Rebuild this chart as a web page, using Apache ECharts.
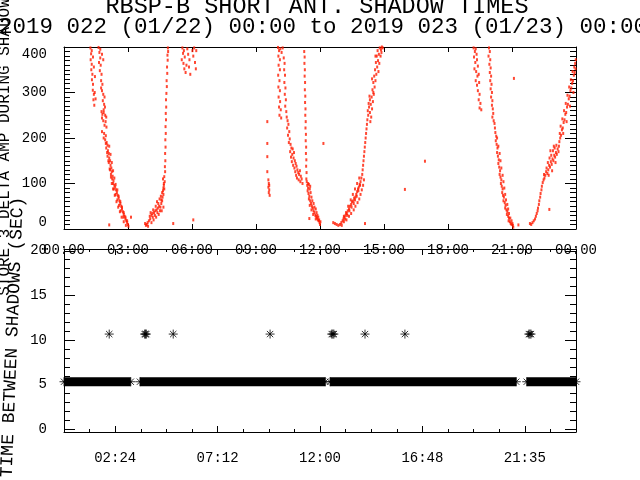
<!DOCTYPE html>
<html>
<head>
<meta charset="utf-8">
<script src="https://cdn.jsdelivr.net/npm/echarts@6.0.0/dist/echarts.min.js"></script>
<style>
  html, body { margin: 0; padding: 0; background: #fff; }
  #chart { width: 640px; height: 480px; }
</style>
</head>
<body>
<div id="chart"></div>
<script>
// ---- tick labels ----
const topTickLabels = ['00:00', '03:00', '06:00', '09:00', '12:00', '15:00', '18:00', '21:00', '00:00']
const bottomTickHours = [2.4, 7.2, 12.0, 16.8, 21.6]
const bottomTickLabels = ['02:24', '07:12', '12:00', '16:48', '21:35']
const gapTicks = [0, 5, 10, 15, 20]
const gapMinorTicks = [0, 1, 2, 3, 4, 5, 6, 7, 8, 9, 10, 11, 12, 13, 14, 15, 16, 17, 18, 19, 20]

// ---- top panel: [hour, amp] ----
const dawnUpper = [
  [1.24, 398], [1.27, 385], [1.25, 372], [1.30, 362], [1.28, 350], [1.33, 340], [1.31, 328], [1.36, 318],
  [1.35, 305], [1.40, 296], [1.38, 284], [1.42, 272], [1.30, 392], [1.36, 378], [1.40, 356], [1.45, 335],
  [1.44, 300], [1.48, 286], [1.62, 399], [1.66, 388], [1.70, 376], [1.64, 366], [1.72, 360], [1.68, 348],
  [1.76, 340], [1.74, 326], [1.80, 318], [1.78, 304], [1.84, 296], [1.82, 282], [1.88, 274], [1.86, 262],
  [1.70, 395], [1.78, 384], [1.84, 372], [1.74, 310], [1.90, 290], [1.92, 268]
]
const dawnDown = [
  [1.76, 258], [1.80, 252], [1.86, 256], [1.93, 250], [1.98, 246], [1.78, 244], [1.84, 238], [1.95, 236],
  [1.90, 228], [1.99, 224], [1.78, 214], [1.88, 210], [1.96, 205], [1.86, 200], [1.93, 196], [2.00, 190],
  [2.04, 184], [1.98, 178], [2.06, 172], [2.10, 166], [2.04, 160], [2.12, 156], [2.16, 150], [2.10, 146],
  [2.18, 140], [2.22, 134], [2.16, 130], [2.24, 126], [2.20, 120], [2.28, 116], [2.26, 110], [2.32, 106],
  [2.30, 100], [2.36, 96], [2.40, 92], [2.34, 88], [2.44, 86], [2.48, 80], [2.42, 76], [2.52, 74],
  [2.56, 68], [2.50, 64], [2.60, 62], [2.64, 56], [2.58, 52], [2.68, 50], [2.72, 44], [2.66, 40],
  [2.76, 38], [2.80, 32], [2.84, 28], [2.78, 26], [2.88, 22], [2.92, 18], [2.96, 14], [3.00, 10], [3.02, 6],
  [1.96, 188], [2.12, 182], [2.02, 168], [2.18, 164], [2.08, 150], [2.24, 146], [2.14, 132], [2.30, 128],
  [2.20, 114], [2.36, 112], [2.24, 100], [2.42, 98], [2.30, 88], [2.50, 86], [2.38, 74], [2.56, 72],
  [2.46, 60], [2.64, 60], [2.54, 48], [2.72, 48], [2.62, 38], [2.80, 36], [2.70, 26], [2.88, 26],
  [2.80, 16], [2.96, 18], [2.90, 8]
]
const dawnUp = [
  [3.80, 12], [3.84, 8], [3.88, 10], [3.92, 14], [3.98, 18], [4.04, 22], [4.02, 28], [4.10, 30],
  [4.16, 26], [4.14, 34], [4.22, 36], [4.28, 40], [4.26, 30], [4.34, 42], [4.40, 46], [4.38, 36],
  [4.46, 50], [4.52, 48], [4.56, 56], [4.50, 40], [4.60, 62], [4.62, 70], [4.66, 76], [4.64, 84],
  [4.70, 88], [4.68, 96], [4.72, 104], [4.70, 115], [4.74, 126], [4.73, 137], [4.75, 150], [4.74, 166],
  [4.76, 180], [4.75, 196], [4.77, 210], [4.76, 225], [4.78, 240], [4.77, 254], [4.79, 268], [4.78, 284],
  [4.80, 298], [4.82, 313], [4.81, 326], [4.84, 342], [4.83, 356], [4.86, 371], [4.85, 382], [4.88, 390], [4.87, 398],
  [4.06, 36], [4.18, 42], [4.30, 50], [4.42, 56], [4.56, 64], [4.20, 20], [4.32, 26], [4.44, 32],
  [4.58, 40], [4.66, 48], [4.10, 14], [3.94, 6], [4.36, 60], [4.48, 66], [4.54, 72], [4.60, 80],
  [4.66, 90], [4.68, 100], [4.64, 110]
]
const morning = [
  [5.55, 398], [5.58, 386], [5.62, 392], [5.52, 372], [5.60, 364], [5.66, 378], [5.64, 352], [5.70, 344],
  [5.74, 360], [5.78, 396], [5.82, 384], [5.88, 372], [5.86, 356], [5.92, 340], [6.02, 392], [6.10, 398],
  [6.06, 380], [6.14, 366], [6.20, 392], [6.18, 352]
]
const noonDown = [
  [10.03, 399], [10.08, 392], [10.14, 396], [10.20, 388], [10.25, 398], [10.05, 380], [10.12, 372], [10.06, 360],
  [10.12, 350], [10.04, 338], [10.10, 326], [10.05, 312], [10.12, 304], [10.06, 290], [10.13, 280], [10.08, 268],
  [10.16, 262], [10.10, 250], [10.18, 244], [10.30, 376], [10.34, 364], [10.32, 350], [10.36, 338], [10.33, 322],
  [10.38, 310], [10.35, 296], [10.40, 284], [10.37, 270], [10.42, 258], [10.44, 246], [10.48, 238], [10.52, 230],
  [10.46, 222], [10.56, 214], [10.50, 206], [10.58, 198], [10.54, 190], [10.62, 186], [10.66, 178], [10.60, 170],
  [10.72, 176], [10.70, 164], [10.64, 158], [10.78, 168], [10.76, 156], [10.68, 148], [10.82, 150], [10.74, 140],
  [10.86, 144], [10.80, 134], [10.90, 138], [10.84, 126], [10.94, 130], [10.88, 118], [10.98, 124], [10.92, 112],
  [11.02, 120], [11.06, 128], [11.00, 108], [11.10, 116], [11.08, 104], [11.14, 110], [11.18, 100],
  [11.26, 390], [11.28, 378], [11.27, 364], [11.29, 350], [11.28, 336], [11.30, 322], [11.29, 306], [11.31, 292],
  [11.30, 278], [11.32, 264], [11.31, 250], [11.33, 236], [11.32, 222], [11.34, 208], [11.33, 194], [11.35, 180],
  [11.34, 166], [11.36, 152], [11.35, 138], [11.37, 124], [11.36, 110], [11.38, 104], [11.40, 96], [11.44, 90],
  [11.42, 84], [11.46, 78], [11.50, 72], [11.48, 66], [11.54, 62], [11.58, 56], [11.52, 52], [11.62, 50],
  [11.66, 46], [11.60, 42], [11.70, 40], [11.74, 36], [11.68, 32], [11.78, 30], [11.82, 28], [11.86, 24],
  [11.80, 22], [11.90, 20], [11.94, 18], [11.98, 14], [12.00, 10],
  [11.48, 98], [11.52, 88], [11.56, 80], [11.60, 70], [11.64, 62], [11.70, 56], [11.74, 48], [11.80, 44],
  [11.84, 36], [11.88, 30], [11.92, 26], [11.96, 20], [12.02, 16], [11.44, 100], [11.54, 94]
]
const noonUp = [
  [12.62, 14], [12.70, 12], [12.78, 10], [12.86, 8], [12.94, 10], [13.00, 14], [13.06, 18], [13.10, 22],
  [13.14, 26], [13.20, 30], [13.18, 22], [13.26, 34], [13.30, 40], [13.28, 30], [13.36, 44], [13.40, 50],
  [13.38, 40], [13.46, 54], [13.50, 60], [13.48, 48], [13.56, 62], [13.60, 68], [13.58, 56], [13.66, 70],
  [13.70, 76], [13.64, 64], [13.74, 82], [13.78, 88], [13.72, 72], [13.82, 92], [13.86, 98], [13.80, 84],
  [13.90, 104], [13.94, 112], [13.88, 96], [13.98, 120], [14.00, 130], [14.02, 140], [14.04, 150], [14.06, 160],
  [14.08, 170], [14.10, 180], [14.12, 190], [14.14, 200], [14.16, 210], [14.18, 220], [14.20, 230], [14.22, 240],
  [14.26, 250], [14.24, 260], [14.30, 268], [14.28, 276], [14.34, 284], [14.32, 292],
  [14.36, 236], [14.40, 246], [14.34, 256], [14.44, 264], [14.38, 274], [14.48, 280], [14.42, 290], [14.52, 296],
  [14.46, 306], [14.56, 312], [14.50, 322], [14.60, 326], [14.54, 336], [14.64, 340], [14.58, 350], [14.68, 356],
  [14.62, 366], [14.72, 370], [14.66, 380], [14.76, 384], [14.70, 392], [14.80, 398], [14.86, 394], [14.90, 400],
  [14.84, 380], [14.74, 346], [14.78, 364], [14.88, 388], [14.94, 398], [14.50, 300], [14.44, 330], [14.60, 380],
  [13.12, 16], [13.24, 20], [13.36, 28], [13.46, 34], [13.58, 42], [13.66, 50], [13.76, 58], [13.84, 66],
  [13.90, 76], [13.96, 86], [14.02, 96], [14.06, 108], [13.32, 50], [13.44, 64], [13.54, 76], [13.64, 88],
  [13.74, 100], [13.84, 112], [13.02, 8], [13.22, 36], [13.12, 28]
]
const eveDown = [
  [19.20, 398], [19.26, 390], [19.22, 378], [19.30, 396], [19.34, 384], [19.28, 366], [19.36, 372], [19.24, 352],
  [19.32, 346], [19.40, 358], [19.38, 336], [19.30, 326], [19.44, 340], [19.36, 316], [19.46, 322], [19.40, 304],
  [19.48, 296], [19.44, 284], [19.52, 276], [19.48, 266], [19.56, 262],
  [19.92, 398], [19.96, 390], [19.90, 380], [19.98, 372], [19.94, 362], [20.00, 354], [19.96, 344], [20.02, 336],
  [19.98, 326], [20.04, 318], [20.00, 308], [20.06, 300], [20.02, 290], [20.08, 282], [20.06, 272], [20.10, 264],
  [20.12, 254], [20.08, 246], [20.14, 238], [20.18, 232], [20.20, 222], [20.22, 212], [20.26, 204], [20.24, 194],
  [20.28, 186], [20.32, 178], [20.30, 168], [20.34, 160], [20.38, 152], [20.36, 144], [20.40, 136], [20.44, 128],
  [20.42, 120], [20.46, 114], [20.50, 108], [20.48, 100], [20.52, 94], [20.56, 88], [20.54, 80], [20.58, 74],
  [20.62, 70], [20.60, 62], [20.66, 58], [20.70, 52], [20.68, 46], [20.74, 42], [20.78, 38], [20.76, 32],
  [20.82, 28], [20.86, 24], [20.84, 18], [20.90, 16], [20.94, 12], [20.98, 10], [21.04, 8], [21.06, 4],
  [20.30, 200], [20.36, 182], [20.42, 166], [20.46, 150], [20.50, 134], [20.56, 118], [20.60, 104], [20.64, 90],
  [20.68, 76], [20.72, 64], [20.78, 54], [20.82, 44], [20.86, 34], [20.92, 24], [20.98, 18], [21.02, 12]
]
const eveUp = [
  [21.84, 12], [21.90, 10], [21.96, 14], [22.02, 18], [22.08, 22], [22.12, 28], [22.16, 34], [22.20, 40],
  [22.22, 46], [22.26, 54], [22.28, 62], [22.32, 70], [22.34, 78], [22.38, 86], [22.40, 94], [22.44, 102],
  [22.48, 108], [22.52, 112], [22.50, 120], [22.56, 118],
  [22.60, 126], [22.66, 122], [22.62, 134], [22.70, 130], [22.74, 140], [22.68, 146], [22.78, 136], [22.82, 148],
  [22.76, 156], [22.86, 142], [22.90, 154], [22.84, 162], [22.94, 150], [22.98, 162], [22.92, 172], [23.02, 158],
  [23.06, 168], [23.00, 178], [23.10, 164], [23.14, 176], [23.08, 184], [23.18, 170], [23.20, 182], [22.72, 118],
  [22.88, 128], [23.04, 146], [22.80, 172], [22.96, 182],
  [23.22, 192], [23.26, 200], [23.24, 210], [23.30, 206], [23.34, 218], [23.28, 226], [23.38, 222], [23.42, 234],
  [23.36, 242], [23.46, 240], [23.50, 252], [23.44, 260], [23.54, 256], [23.58, 268], [23.52, 276], [23.62, 274],
  [23.66, 286], [23.60, 294], [23.70, 292], [23.74, 304], [23.68, 312], [23.78, 310], [23.82, 320], [23.76, 328],
  [23.86, 326], [23.90, 338], [23.84, 346], [23.94, 344], [23.92, 356], [23.98, 352], [23.96, 364], [23.99, 372],
  [23.88, 300], [23.72, 270], [23.56, 236], [23.40, 210]
]
const strays = [
  [2.12, 9], [3.14, 26], [5.12, 12], [6.06, 20], [9.53, 236], [9.53, 188], [9.53, 159], [9.53, 126],
  [9.58, 108], [9.60, 100], [9.58, 92], [9.62, 86], [9.60, 80], [9.64, 74], [9.62, 96],
  [11.50, 23], [12.16, 188], [14.11, 12], [15.98, 87], [16.92, 149], [21.09, 331], [21.30, 9], [22.75, 43]
]

// ---- bottom panel ----
const bandValue = 5.33
const bandStarts = [0.0, 3.56, 12.47, 21.69]
const bandEnds = [3.13, 12.25, 21.20, 24.0]
const longGapValue = 10.67
const longGapHours = [2.12, 3.78, 3.82, 3.86, 5.12, 9.66, 12.55, 12.60, 12.65, 14.11, 15.98, 21.79, 21.84, 21.89]

const FONT = '"Liberation Mono", "DejaVu Sans Mono", monospace'
const BLACK = '#000'
const RED = '#ff1a00'
const ASTERISK = 'path://M5,0L5,10M0,5L10,5M1.5,1.5L8.5,8.5M1.5,8.5L8.5,1.5'

const line = { show: true, onZero: false, lineStyle: { color: BLACK, width: 1 } }
const noLine = { show: false, onZero: false }
const noLabel = { show: false }
const blankLabel = (values) => ({ show: true, customValues: values, formatter: () => '', fontSize: 1 })
const tick = (len, extra) => Object.assign({ show: true, inside: true, length: len, lineStyle: { color: BLACK, width: 1 } }, extra || {})
const labelStyle = { color: BLACK, fontFamily: FONT, fontSize: 14 }
const none = { show: false }

const chart = echarts.init(document.getElementById('chart'))

const option = {
  animation: false,
  backgroundColor: '#fff',
  grid: [
    { left: 64, right: 64, top: 47, bottom: 251, outerBoundsMode: 'none' },
    { left: 64, right: 64, top: 249, bottom: 48, outerBoundsMode: 'none' }
  ],
  xAxis: [
    {
      gridIndex: 0, type: 'value', position: 'bottom', min: 0, max: 24, interval: 3,
      axisLine: line, axisTick: tick(5), splitLine: none,
      axisLabel: Object.assign({ margin: 14, showMinLabel: true, showMaxLabel: true,
        formatter: (v) => topTickLabels[Math.round(v / 3)] }, labelStyle)
    },
    {
      gridIndex: 0, type: 'value', position: 'top', min: 0, max: 24, interval: 3,
      axisLine: line, axisTick: tick(5), splitLine: none, axisLabel: noLabel
    },
    {
      gridIndex: 1, type: 'value', position: 'bottom', min: 0, max: 24,
      axisLine: line, axisTick: tick(6, { customValues: bottomTickHours }), splitLine: none,
      axisLabel: Object.assign({ margin: 19, customValues: bottomTickHours,
        formatter: (v) => bottomTickLabels[bottomTickHours.findIndex((h) => Math.abs(h - v) < 0.01)] }, labelStyle)
    },
    {
      gridIndex: 1, type: 'value', position: 'bottom', min: 0, max: 24, interval: 1.2,
      axisLine: noLine, axisTick: tick(3), splitLine: none, axisLabel: noLabel
    },
    {
      gridIndex: 1, type: 'value', position: 'top', min: 0, max: 24,
      axisLine: line, axisTick: tick(6, { customValues: bottomTickHours }), splitLine: none,
      axisLabel: blankLabel(bottomTickHours)
    },
    {
      gridIndex: 1, type: 'value', position: 'top', min: 0, max: 24, interval: 1.2,
      axisLine: noLine, axisTick: tick(3), splitLine: none, axisLabel: noLabel
    }
  ],
  yAxis: [
    {
      gridIndex: 0, type: 'value', position: 'left', min: 0, max: 400, interval: 100,
      axisLine: line, axisTick: tick(11), splitLine: none,
      axisLabel: Object.assign({ margin: 17, showMinLabel: true, showMaxLabel: true,
        formatter: (v) => (v === 400 ? '{t|400}' : v === 0 ? '{b|0}' : String(v)),
        rich: {
          t: { padding: [14, 0, 0, 0], color: BLACK, fontFamily: FONT, fontSize: 14 },
          b: { padding: [0, 0, 14, 0], color: BLACK, fontFamily: FONT, fontSize: 14 }
        } }, labelStyle)
    },
    {
      gridIndex: 0, type: 'value', position: 'left', min: 0, max: 400, interval: 10,
      axisLine: noLine, axisTick: tick(6), splitLine: none, axisLabel: noLabel
    },
    {
      gridIndex: 0, type: 'value', position: 'right', min: 0, max: 400, interval: 100,
      axisLine: line, axisTick: tick(11), splitLine: none, axisLabel: noLabel
    },
    {
      gridIndex: 0, type: 'value', position: 'right', min: 0, max: 400, interval: 10,
      axisLine: noLine, axisTick: tick(6), splitLine: none, axisLabel: noLabel
    },
    {
      gridIndex: 1, type: 'value', position: 'left', min: -0.3, max: 20.2,
      axisLine: line, axisTick: tick(11, { customValues: gapTicks }), splitLine: none,
      axisLabel: Object.assign({ margin: 17, customValues: gapTicks }, labelStyle)
    },
    {
      gridIndex: 1, type: 'value', position: 'left', min: -0.3, max: 20.2,
      axisLine: noLine, axisTick: tick(6, { customValues: gapMinorTicks }), splitLine: none,
      axisLabel: blankLabel(gapMinorTicks)
    },
    {
      gridIndex: 1, type: 'value', position: 'right', min: -0.3, max: 20.2,
      axisLine: line, axisTick: tick(11, { customValues: gapTicks }), splitLine: none,
      axisLabel: blankLabel(gapTicks)
    },
    {
      gridIndex: 1, type: 'value', position: 'right', min: -0.3, max: 20.2,
      axisLine: noLine, axisTick: tick(6, { customValues: gapMinorTicks }), splitLine: none,
      axisLabel: blankLabel(gapMinorTicks)
    }
  ],
  series: [
    {
      type: 'scatter', xAxisIndex: 0, yAxisIndex: 0, symbol: 'rect', symbolSize: [2, 3], silent: true,
      itemStyle: { color: RED },
      data: [].concat(dawnUpper, dawnDown, dawnUp, morning, noonDown, noonUp, eveDown, eveUp, strays)
    },
    ...bandStarts.map((s, i) => ({
      type: 'line', xAxisIndex: 2, yAxisIndex: 4, symbol: 'none', silent: true,
      lineStyle: { color: BLACK, width: 9, cap: 'butt' },
      data: [[s, bandValue], [bandEnds[i], bandValue]]
    })),
    {
      type: 'scatter', xAxisIndex: 2, yAxisIndex: 4, symbol: ASTERISK, symbolSize: 9, silent: true,
      itemStyle: { color: 'none', borderColor: BLACK, borderWidth: 1 },
      data: bandStarts.map((s) => [s, bandValue])
        .concat(bandEnds.map((e) => [e, bandValue]))
        .concat(longGapHours.map((h) => [h, longGapValue]))
    }
  ],
  graphic: [
    { type: 'text', x: 317, y: 7, silent: true,
      style: { text: 'RBSP-B SHORT ANT. SHADOW TIMES', fill: BLACK, font: '23.5px ' + FONT, align: 'center', verticalAlign: 'middle' } },
    { type: 'text', x: 323, y: 27.5, silent: true,
      style: { text: '2019 022 (01/22) 00:00 to 2019 023 (01/23) 00:00', fill: BLACK, font: '22.5px ' + FONT, align: 'center', verticalAlign: 'middle' } },
    { type: 'text', x: 4.5, y: 147, rotation: Math.PI / 2, silent: true,
      style: { text: 'STORE 3 DELTA AMP DURING SHADOW', fill: BLACK, font: '16px ' + FONT, align: 'center', verticalAlign: 'middle' } },
    { type: 'text', x: 12.5, y: 337, rotation: 87.7 * Math.PI / 180, silent: true,
      style: { text: 'TIME BETWEEN SHADOWS (SEC)', fill: BLACK, font: '18px ' + FONT, align: 'center', verticalAlign: 'middle' } }
  ]
}

chart.setOption(option)
</script>
</body>
</html>
